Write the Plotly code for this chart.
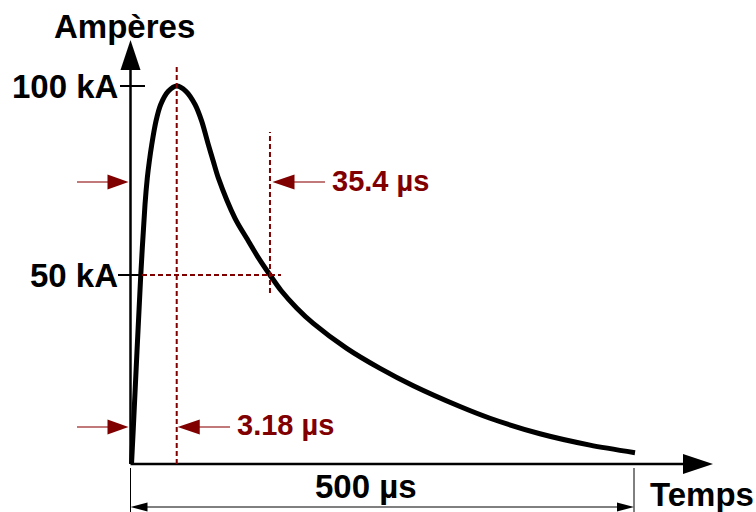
import plotly.graph_objects as go

# ---------------- data (schematic units: µs along time axis, kA along current axis)
t_us = [1.0, 2.8, 10.1, 14.4, 16.7, 18.7, 21.1, 25.3, 30.0, 37.5, 45.9,
        55.1, 64.1, 70.7, 77.3, 82.2, 87.2, 103.8, 115.4, 126.9, 138.5,
        149.5, 165.0, 181.5, 214.7, 247.8, 280.8, 327.2, 357.0, 406.6, 456.3, 501.0]
i_kA = [0.0, 9.5, 49.5, 68.6, 75.7, 80.1, 84.5, 90.7, 95.1, 98.6, 100.0,
        98.6, 95.1, 90.7, 84.5, 80.1, 75.7, 65.0, 59.7, 54.6, 50.0,
        45.9, 41.3, 37.2, 30.6, 25.3, 20.7, 15.2, 12.1, 8.0, 5.0, 3.0]
tick_values = [50, 100]
tick_labels = ["50 kA", "100 kA"]
t_peak = 45.9      # time of peak (labelled 3.18 µs)
t_half = 138.5     # time of half value (labelled 35.4 µs)
t_end = 500        # duration shown (500 µs)
front_label = "3.18 µs"
tail_label = "35.4 µs"
dur_label = "500 µs"
y_title = "Ampères"
x_title = "Temps"

# ---------------- geometry of the figure (pixel <-> data)
W, H = 756, 512
X0, KX = 130.5, (634 - 130.5) / 500.0
Y0, KY = 464.0, (464 - 86) / 100.0


def X(px):
    return (px - X0) / KX


def Y(py):
    return (Y0 - py) / KY


RED = "#800000"
SHAFT = "#a03030"
FONT = "Liberation Sans, Arial, sans-serif"

shapes = []


def seg(x0, y0, x1, y1, color="black", width=2, dash=None):
    ln = dict(color=color, width=width)
    if dash:
        ln["dash"] = dash
    shapes.append(dict(type="line", xref="x", yref="y", x0=x0, y0=y0, x1=x1, y1=y1, line=ln))


def head(xa, ya, path, color):
    shapes.append(dict(type="path", xref="x", yref="y", xsizemode="pixel", ysizemode="pixel",
                       xanchor=xa, yanchor=ya, path=path, fillcolor=color,
                       line=dict(width=0, color=color)))


# axes
seg(0, 0, 0, Y(68), width=2.5)
head(0, Y(40), "M -10,-30 L 0,0 L 10,-30 Z", "black")
seg(0, 0, X(685), 0, width=2.5)
head(X(713), 0, "M -30,-10 L 0,0 L -30,10 Z", "black")

# tick marks
seg(X(120), tick_values[1], X(145), tick_values[1], width=2)
seg(X(118), tick_values[0], X(142), tick_values[0], width=2)

# dotted guide lines
DASH = "5px,3px"
seg(t_peak, 0, t_peak, Y(64), color=RED, width=2, dash=DASH)
seg(t_half, Y(293), t_half, Y(132), color=RED, width=2, dash=DASH)
seg(X(142), tick_values[0], X(281), tick_values[0], color=RED, width=2, dash=DASH)

# red dimension arrows
ya1 = Y(182)
ya2 = Y(427)
for ya in (ya1, ya2):
    seg(X(77), ya, X(108), ya, color=SHAFT, width=1.3)
    head(X(128.5), ya, "M -21,-7.5 L 0,0 L -21,7.5 Z", RED)
seg(X(294), ya1, X(325), ya1, color=SHAFT, width=1.3)
head(t_half + X(272.5) - X(270), ya1, "M 22,-7.5 L 0,0 L 22,7.5 Z", RED)
seg(X(199), ya2, X(230), ya2, color=SHAFT, width=1.3)
head(t_peak + X(178) - X(177), ya2, "M 22,-7.5 L 0,0 L 22,7.5 Z", RED)

# 500 µs dimension
seg(0, Y(468), 0, Y(512), width=1)
seg(t_end, Y(468), t_end, Y(512), width=1)
yd = Y(507)
seg(X(140), yd, X(625), yd, width=1)
head(0, yd, "M 17,-4.5 L 0,0 L 17,4.5 Z", "black")
head(t_end, yd, "M -17,-4.5 L 0,0 L -17,4.5 Z", "black")

fig = go.Figure()
fig.add_trace(go.Scatter(x=t_us, y=i_kA, mode="lines", hoverinfo="skip",
                         line=dict(color="black", width=5, shape="spline", smoothing=0.8)))

ann = []


def text(x, y, s, size, color, xanchor):
    ann.append(dict(x=x, y=y, xref="x", yref="y", text="<b>" + s + "</b>", showarrow=False,
                    xanchor=xanchor, yanchor="middle", borderpad=0,
                    font=dict(family=FONT, size=size, color=color)))


text(X(124), Y(26.5), y_title, 33, "black", "center")
text(X(119), tick_values[1], tick_labels[1], 33, "black", "right")
text(X(119), tick_values[0], tick_labels[0], 33, "black", "right")
text(X(331), Y(181), tail_label, 29, RED, "left")
text(X(236), Y(425), front_label, 29, RED, "left")
text(X(366), Y(486), dur_label, 33, "black", "center")
text(X(649), Y(494), x_title, 33, "black", "left")

fig.update_layout(
    width=W, height=H, margin=dict(l=0, r=0, t=0, b=0),
    xaxis=dict(visible=False, range=[X(0), X(W)], fixedrange=True),
    yaxis=dict(visible=False, range=[Y(H), Y(0)], fixedrange=True),
    plot_bgcolor="white", paper_bgcolor="white", showlegend=False,
    shapes=shapes, annotations=ann,
)
fig.write_html("out.html")
